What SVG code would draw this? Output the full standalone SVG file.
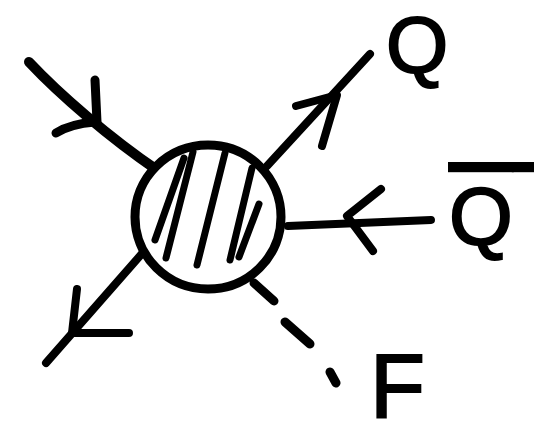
<svg xmlns="http://www.w3.org/2000/svg" width="534" height="437" viewBox="0 0 534 437">
<style>
.ln{fill:none;stroke:#000;stroke-linecap:round;stroke-linejoin:round}
.lbl{font-family:"Liberation Sans",Arial,sans-serif;fill:#000}
</style>
<rect width="534" height="437" fill="#fff"/>
<g id="connectors">
  <path class="ln" d="M29,62 C60,95 110,138 157,170" stroke-width="10"/>
  <path class="ln" d="M95,80 L97,122 M56,133 Q70,124 95,122" stroke-width="9"/>
  <path class="ln" d="M267,166 L370,54" stroke-width="8"/>
  <path class="ln" d="M296,106 L337,95 L322,146" stroke-width="8"/>
  <path class="ln" d="M288,226 L431,220" stroke-width="8"/>
  <path class="ln" d="M381,189 L347,216 L373,251" stroke-width="8"/>
  <path class="ln" d="M146,249 L46,363" stroke-width="8"/>
  <path class="ln" d="M77,289 L72,333 L129,333" stroke-width="8"/>
  <path class="ln" d="M254,283 L274,301 M285,322 L310,344 M330,372 L336,383" stroke-width="9"/>
</g>
<g id="blob">
  <ellipse cx="208" cy="217" rx="73" ry="72" fill="#fff" stroke="#000" stroke-width="9"/>
  <path class="ln" d="M166,258 L193,152 M155,240 L184,158 M197,265 L225,153 M230,260 L252,168 M239,257 L259,204" stroke-width="7"/>
</g>
<g id="label-Q"><text class="lbl" x="386" y="73" font-size="80" stroke="#000" stroke-width="2">Q</text></g>
<g id="label-Qbar"><text class="lbl" x="449" y="245" font-size="82" stroke="#000" stroke-width="2" style="text-decoration:overline">Q<tspan>&#160;</tspan></text></g>
<g id="label-F"><text class="lbl" x="370" y="417" font-size="90" stroke="#000" stroke-width="2">F</text></g>
</svg>
